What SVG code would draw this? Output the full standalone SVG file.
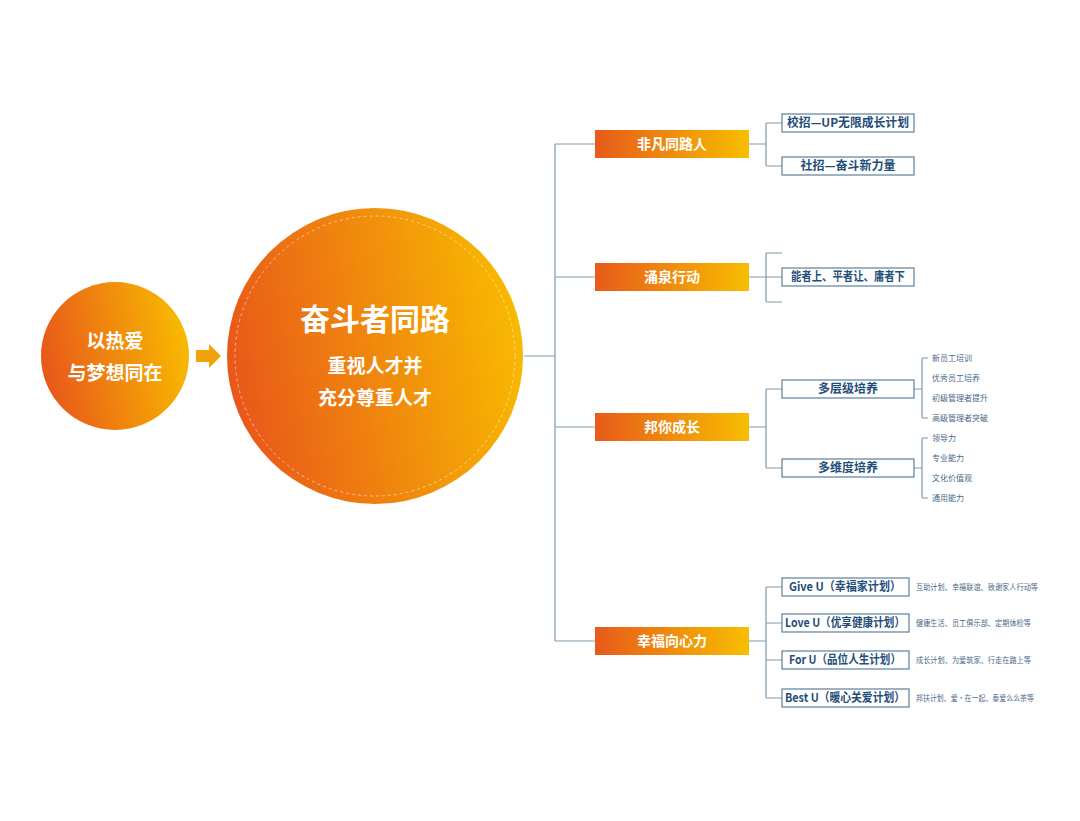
<svg xmlns="http://www.w3.org/2000/svg" width="1080" height="821" viewBox="0 0 1080 821">
<defs>
<linearGradient id="g" x1="0" y1="0" x2="1" y2="0"><stop offset="0" stop-color="#e85a1a"/><stop offset="1" stop-color="#f7be00"/></linearGradient>
<linearGradient id="gc" x1="0" y1="0.6" x2="1" y2="0.4"><stop offset="0" stop-color="#e8561a"/><stop offset="1" stop-color="#f8bb00"/></linearGradient>
<style>
.ln{fill:none;stroke:#7f99ae;stroke-width:1.2}
.bx{fill:#fff;stroke:#5d7f9b;stroke-width:1.2}
.bt{font-family:"Noto Sans CJK SC",sans-serif;font-size:12px;font-weight:bold;fill:#1f4e79;text-anchor:middle}
.wt{font-family:"Noto Sans CJK SC",sans-serif;font-weight:bold;fill:#fff;text-anchor:middle}
.st{font-family:"Noto Sans CJK SC",sans-serif;font-size:8px;fill:#4a6a88}
</style>
</defs>
<rect width="1080" height="821" fill="#fff"/>
<g id="connectors">
<path class="ln" d="M524 356H555M555 144V641M555 144H595M555 277H595M555 427H595M555 641H595"/>
<path class="ln" d="M749 144H766M766 123V166M766 123H782M766 166H782"/>
<path class="ln" d="M749 277H782M766 253V302M766 253H782M766 302H782"/>
<path class="ln" d="M749 427H766M766 389V468M766 389H782M766 468H782"/>
<path class="ln" d="M914 389H922M922 358V418M922 358H928M922 418H928"/>
<path class="ln" d="M914 468H922M922 438V498M922 438H928M922 498H928"/>
<path class="ln" d="M749 641H766M766 587V698M766 587H782M766 623H782M766 660H782M766 698H782"/>
<path d="M196 350H209V344L221 356L209 368V362H196Z" fill="#f3a20c"/>
</g>
<g id="left"><circle cx="115" cy="356" r="74" fill="url(#gc)"/>
<text class="wt" x="115" y="348" font-size="19">以热爱</text><text class="wt" x="115" y="380" font-size="19">与梦想同在</text></g>
<g id="center"><circle cx="375" cy="356" r="148" fill="url(#gc)"/>
<circle cx="375" cy="356" r="140" fill="none" stroke="#fff" stroke-opacity="0.5" stroke-dasharray="3 3"/>
<text class="wt" x="375" y="330" font-size="30">奋斗者同路</text>
<text class="wt" x="375" y="373" font-size="19">重视人才并</text>
<text class="wt" x="375" y="405" font-size="19">充分尊重人才</text></g>
<g id="b1"><rect x="595" y="130" width="154" height="28" fill="url(#g)"/><text class="wt" x="672" y="149" font-size="14">非凡同路人</text></g>
<g id="b2"><rect x="595" y="263" width="154" height="28" fill="url(#g)"/><text class="wt" x="672" y="282" font-size="14">涌泉行动</text></g>
<g id="b3"><rect x="595" y="413" width="154" height="28" fill="url(#g)"/><text class="wt" x="672" y="432" font-size="14">邦你成长</text></g>
<g id="b4"><rect x="595" y="627" width="154" height="28" fill="url(#g)"/><text class="wt" x="672" y="646" font-size="14">幸福向心力</text></g>
<g id="c1"><rect class="bx" x="782" y="114" width="132" height="18"/><text class="bt" x="848" y="127" textLength="122" lengthAdjust="spacingAndGlyphs">校招—UP无限成长计划</text></g>
<g id="c2"><rect class="bx" x="782" y="157" width="132" height="18"/><text class="bt" x="848" y="170">社招—奋斗新力量</text></g>
<g id="c3"><rect class="bx" x="782" y="268" width="132" height="18"/><text class="bt" x="848" y="281" textLength="114" lengthAdjust="spacingAndGlyphs">能者上、平者让、庸者下</text></g>
<g id="c4"><rect class="bx" x="782" y="380" width="132" height="18"/><text class="bt" x="848" y="393">多层级培养</text></g>
<g id="c5"><rect class="bx" x="782" y="459" width="132" height="18"/><text class="bt" x="848" y="472">多维度培养</text></g>
<g id="leaves">
<text class="st" x="932" y="361">新员工培训</text><text class="st" x="932" y="381">优秀员工培养</text><text class="st" x="932" y="401">初级管理者提升</text><text class="st" x="932" y="421">高级管理者突破</text>
<text class="st" x="932" y="441">领导力</text><text class="st" x="932" y="461">专业能力</text><text class="st" x="932" y="481">文化价值观</text><text class="st" x="932" y="501">通用能力</text>
</g>
<g id="d1"><rect class="bx" x="782" y="578" width="127" height="18"/><text class="bt" x="845" y="591" textLength="112" lengthAdjust="spacingAndGlyphs">Give U（幸福家计划）</text><text class="st" x="916" y="590" textLength="122" lengthAdjust="spacingAndGlyphs">互助计划、幸福联谊、致谢家人行动等</text></g>
<g id="d2"><rect class="bx" x="782" y="614" width="127" height="18"/><text class="bt" x="845" y="627" textLength="120" lengthAdjust="spacingAndGlyphs">Love U（优享健康计划）</text><text class="st" x="916" y="626" textLength="115" lengthAdjust="spacingAndGlyphs">健康生活、员工俱乐部、定期体检等</text></g>
<g id="d3"><rect class="bx" x="782" y="651" width="127" height="18"/><text class="bt" x="845" y="664" textLength="112" lengthAdjust="spacingAndGlyphs">For U（品位人生计划）</text><text class="st" x="916" y="663" textLength="115" lengthAdjust="spacingAndGlyphs">成长计划、为爱筑家、行走在路上等</text></g>
<g id="d4"><rect class="bx" x="782" y="689" width="127" height="18"/><text class="bt" x="845" y="702" textLength="120" lengthAdjust="spacingAndGlyphs">Best U（暖心关爱计划）</text><text class="st" x="916" y="701" textLength="118" lengthAdjust="spacingAndGlyphs">邦扶计划、爱·在一起、泰爱么么茶等</text></g>
</svg>
